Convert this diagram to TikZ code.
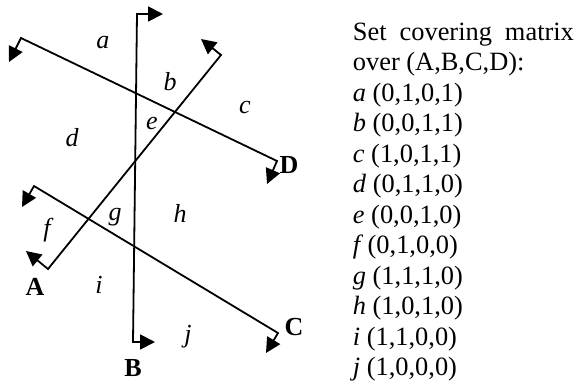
\documentclass[tikz,border=0pt]{standalone}
\usepackage{fontspec}
\setmainfont{Liberation Serif}
\usetikzlibrary{arrows.meta, calc}

\begin{document}
\begin{tikzpicture}[x=0.5pt, y=-0.5pt, line width=0.9pt,
    hooks/.style={{Triangle[length=7.5pt, width=7.5pt]}-{Triangle[length=7.5pt, width=7.5pt]}},
    region/.style={font=\fontsize{13}{15}\selectfont\itshape, inner sep=0pt},
    cutname/.style={font=\fontsize{13}{15}\selectfont\bfseries, inner sep=0pt}]
  \useasboundingbox (0,0) rectangle (574,386);
  % ends of the four cuts
  \coordinate (A1) at (48,269);
  \coordinate (A2) at (221,55);
  \coordinate (B1) at (137,14);
  \coordinate (B2) at (133,342);
  \coordinate (C1) at (34,186);
  \coordinate (C2) at (278,333);
  \coordinate (D1) at (21,38);
  \coordinate (D2) at (277,161);
  \draw[hooks] ($(A2)+(-20,-16)$) -- (A2) -- (A1) -- ++(-22,-18);
  \draw[hooks] ($(B1)+(26,0)$) -- (B1) -- (B2) -- ++(22,0);
  \draw[hooks] ($(C1)+(-12,21)$) -- (C1) -- (C2) -- ++(-12,20);
  \draw[hooks] ($(D1)+(-12,24)$) -- (D1) -- (D2) -- ++(-10,23);
  \node[cutname] (nA) at (35,287) {A};
  \node[cutname] (nB) at (133,368) {B};
  \node[cutname] (nC) at (294,327) {C};
  \node[cutname] (nD) at (289,165) {D};
  % regions
  \node[region] (ra) at (103,43) {a};
  \node[region] (rb) at (170,82) {b};
  \node[region] (rc) at (245,107) {c};
  \node[region] (rd) at (72,138) {d};
  \node[region] (re) at (152,123) {e};
  \node[region] (rf) at (47,230) {f};
  \node[region] (rg) at (115,217) {g};
  \node[region] (rh) at (180,213) {h};
  \node[region] (ri) at (99,285) {i};
  \node[region] (rj) at (188,337) {j};
  % matrix
  \node[anchor=base west, inner sep=0pt, text width=110.5pt, align=justify,
        font=\fontsize{13.2}{15.25}\selectfont] (cover) at (352,40)
    {Set covering matrix over (A,B,C,D):\\
     \textit{a} (0,1,0,1)\\
     \textit{b} (0,0,1,1)\\
     \textit{c} (1,0,1,1)\\
     \textit{d} (0,1,1,0)\\
     \textit{e} (0,0,1,0)\\
     \textit{f}\,(0,1,0,0)\\
     \textit{g} (1,1,1,0)\\
     \textit{h} (1,0,1,0)\\
     \textit{i} (1,1,0,0)\\
     \textit{j} (1,0,0,0)};
\end{tikzpicture}
\end{document}
